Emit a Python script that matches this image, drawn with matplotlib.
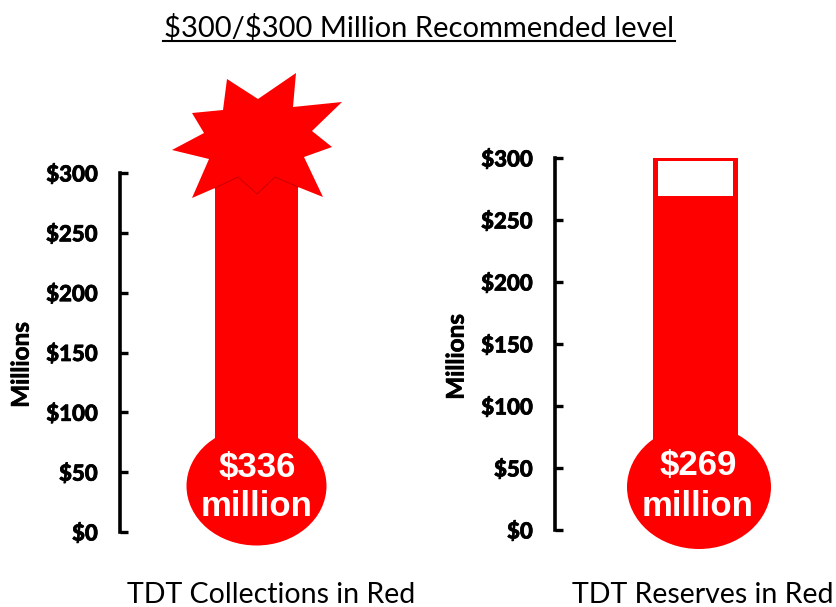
# coding: utf8

from matplotlib import pyplot as plt
from matplotlib.patches import Ellipse, Polygon
import matplotlib.patheffects as pe

W, H = 836, 607

# chart values, in millions
ticks = [0, 50, 100, 150, 200, 250, 300]
tick_labels = ["\\$0", "\\$50", "\\$100", "\\$150", "\\$200", "\\$250", "\\$300"]
collections = 336
reserves = 269
goal = 300

title = "\\$300/\\$300 Million Recommended level"
left_caption = "TDT Collections in Red"
right_caption = "TDT Reserves in Red"
RED = "#ff0000"

# burst drawn over the top of the left thermometer, pixel positions
burst = [(296, 73), (258, 99), (227, 79), (223, 110), (192, 113), (204, 133),
         (172, 150), (209, 159), (192, 198), (215, 188), (298, 187), (323, 197),
         (304, 157), (332, 147), (312, 131), (342, 102), (293, 107)]
crack = [(215, 188), (238, 177), (257, 194), (275, 177), (298, 187)]


def make_axes(fig, x0, x1, top, bottom, xlim):
    # axes placed from reference pixels, the left spine is the scale
    ax = fig.add_axes([x0 / W, 1 - bottom / H, (x1 - x0) / W, (bottom - top) / H])
    ax.set_ylim(0, goal)
    ax.set_xlim(*xlim)
    ax.patch.set_alpha(0)
    for s in ["top", "right", "bottom"]:
        ax.spines[s].set_visible(False)
    ax.spines["left"].set_linewidth(2.6)
    ax.spines["left"].set_capstyle("projecting")
    ax.set_xticks([])
    ax.set_yticks(ticks, tick_labels, fontfamily="Lato", fontweight="black", fontsize=16)
    ax.tick_params(axis="y", direction="in", length=6, width=2.4, pad=16)
    for lab in ax.get_yticklabels():
        lab.set_path_effects([pe.withStroke(linewidth=0.5, foreground="black")])
    ax.set_ylabel("Millions", fontfamily="Lato", fontweight="bold", fontsize=17.5,
                  path_effects=[pe.withStroke(linewidth=0.5, foreground="black")])
    ax.yaxis.set_label_coords(-0.397, 0.465)
    return ax


def bulb_text(ov, x, y1, y2, top, bottom):
    ov.text(x, y1, top, color="white", ha="center", va="center",
            fontfamily="Liberation Sans", fontweight="bold", fontsize=25)
    ov.text(x, y2, bottom, color="white", ha="center", va="center",
            fontfamily="Liberation Sans", fontweight="bold", fontsize=25)


def thermometer_demo():
    fig = plt.figure(figsize=(W / 100, H / 100), dpi=100)

    ax1 = make_axes(fig, 120, 340, 173, 532, (-1.645, 1.006))
    ax1.bar([0], [collections], width=1, color=RED)

    ax2 = make_axes(fig, 555, 775, 158, 530, (-1.653, 0.935))
    ax2.bar([0], [goal], width=1, color=RED)
    # empty part of the tube, leaves a red rim round it
    ax2.bar([0], [goal - reserves - 2.4], bottom=reserves, width=0.88, color="white")

    # overlay for the bulbs, burst and text, in reference pixels
    ov = fig.add_axes([0, 0, 1, 1], zorder=5)
    ov.set_xlim(0, W)
    ov.set_ylim(H, 0)
    ov.axis("off")

    ov.add_patch(Ellipse((256.5, 486), 140, 119, color=RED, lw=0))
    ov.add_patch(Ellipse((699, 487), 144, 124, color=RED, lw=0))
    ov.add_patch(Polygon(burst, closed=True, facecolor=RED, edgecolor="none"))
    ov.plot([p[0] for p in crack], [p[1] for p in crack], color="#c80000", lw=0.7)

    bulb_text(ov, 257, 467, 506, "\\$336", "million")
    bulb_text(ov, 698, 465, 506, "\\$269", "million")

    ov.text(419, 28, title, ha="center", va="center", fontfamily="Lato", fontsize=21)
    ov.plot([163, 675], [41, 41], color="black", lw=1.5)
    ov.text(271.5, 595, left_caption, ha="center", va="center", fontfamily="Lato", fontsize=20.5)
    ov.text(703, 595, right_caption, ha="center", va="center", fontfamily="Lato", fontsize=20.5)

    fig.savefig("out.png", dpi=100)


if __name__ == '__main__':
    thermometer_demo()
